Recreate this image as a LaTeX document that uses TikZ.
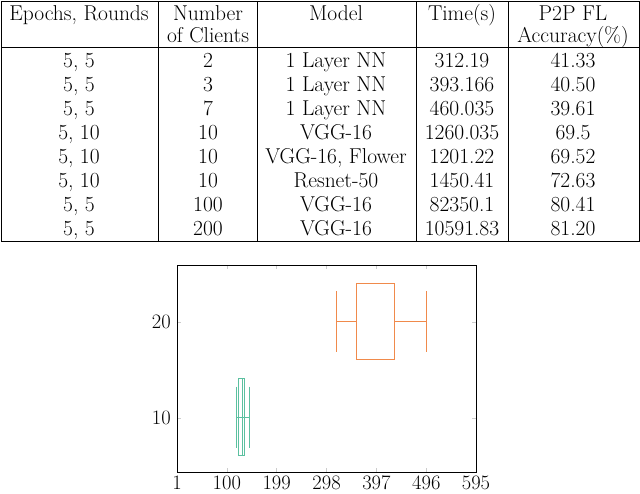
\documentclass[tikz,border=0pt]{standalone}
\definecolor{grc}{HTML}{5CC0A0}
\definecolor{orc}{HTML}{F08A4B}
\begin{document}
\begin{tikzpicture}[x=1pt,y=-1pt,
  txt/.style={font=\fontsize{21.5}{23}\selectfont,inner sep=0pt,anchor=base},
  tick/.style={font=\fontsize{20.5}{22}\selectfont,inner sep=0pt},
  grn/.style={draw=grc,line width=1pt},
  org/.style={draw=orc,line width=1pt}]
\useasboundingbox (0,0) rectangle (640,493);
% table
\draw[line width=0.8pt] (1,1) rectangle (639,241);
\draw[line width=0.8pt] (1,47) -- (639,47);
\foreach \x in {158,257,416,508} \draw[line width=0.8pt] (\x,1) -- (\x,241);
\node[txt] (h1) at (79,20) {Epochs, Rounds};
\node[txt] (h2a) at (208,20) {Number};
\node[txt] (h2b) at (208,42) {of Clients};
\node[txt] (h3) at (336,20) {Model};
\node[txt] (h4) at (462,20) {Time(s)};
\node[txt] (h5a) at (573,20) {P2P FL};
\node[txt] (h5b) at (573,42) {Accuracy(\%)};
\foreach \a/\b/\c/\d/\e [count=\i] in {
 {5, 5}/2/1 Layer NN/312.19/41.33,
 {5, 5}/3/1 Layer NN/393.166/40.50,
 {5, 5}/7/1 Layer NN/460.035/39.61,
 {5, 10}/10/VGG-16/1260.035/69.5,
 {5, 10}/10/{VGG-16, Flower}/1201.22/69.52,
 {5, 10}/10/Resnet-50/1450.41/72.63,
 {5, 5}/100/VGG-16/82350.1/80.41,
 {5, 5}/200/VGG-16/10591.83/81.20}{
 \pgfmathsetmacro\yy{43+24*\i}
 \node[txt] (r\i a) at (79,\yy) {\a};
 \node[txt] (r\i b) at (208,\yy) {\b};
 \node[txt] (r\i c) at (336,\yy) {\c};
 \node[txt] (r\i d) at (462,\yy) {\d};
 \node[txt] (r\i e) at (573,\yy) {\e};
}
% plot
\foreach \v/\l in {177/1,226.8/100,276.7/199,326.6/298,376.4/397,426.3/496,476/595}{
  \draw[gray!40,line width=0.5pt] (\v,472) -- (\v,468) (\v,265) -- (\v,269);
  \node[tick,anchor=base] at (\v,489.5) {\l};}
\foreach \v/\l in {322/20,418/10}{
  \draw[gray!40,line width=0.5pt] (177,\v) -- (181,\v) (476,\v) -- (472,\v);
  \node[tick,anchor=east] at (171,\v) {\l};}
\draw[grn] (236.7,386.7) -- (236.7,447.7) (249.3,386.7) -- (249.3,447.7)
  (236.7,417) -- (249.3,417);
\draw[grn] (238.3,378.7) rectangle (244.3,455.3);
\draw[grn] (242,378.7) -- (242,455.3);
\draw[org] (336.7,291.3) -- (336.7,352) (426,291.3) -- (426,352)
  (336.7,321.7) -- (356.7,321.7) (394,321.7) -- (426,321.7);
\draw[org] (356.7,283.7) rectangle (394,359.7);
\draw[line width=0.8pt] (177,265) rectangle (476,472);
\end{tikzpicture}
\end{document}
